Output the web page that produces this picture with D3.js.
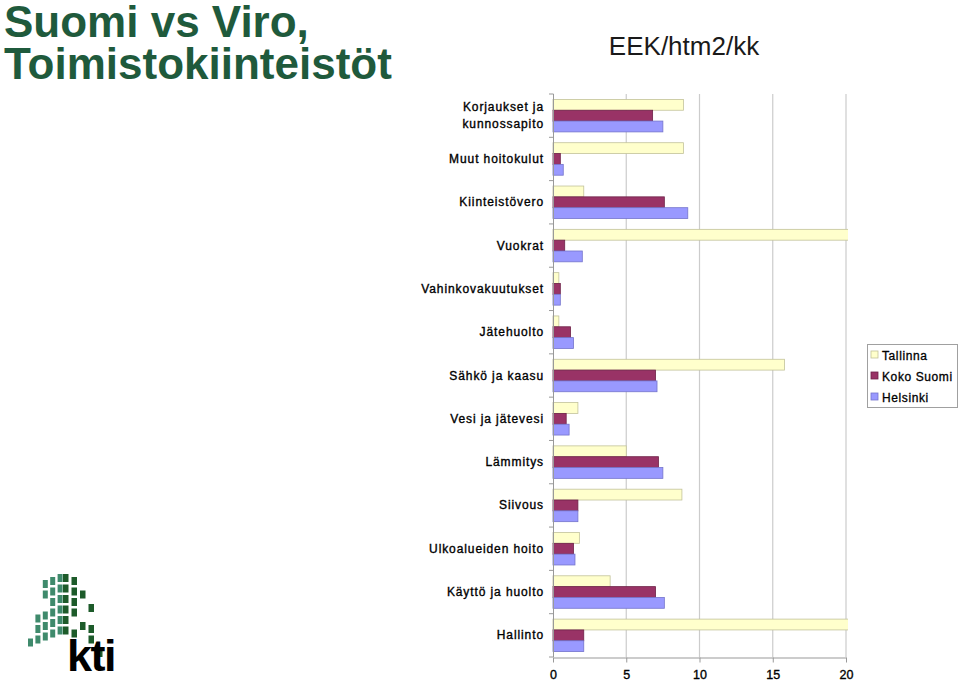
<!DOCTYPE html>
<html>
<head>
<meta charset="utf-8">
<script src="https://cdn.jsdelivr.net/npm/d3@7"></script>
<style>
  html, body { margin: 0; padding: 0; background: #fff; }
  svg { display: block; font-family: "Liberation Sans", Arial, sans-serif; }
</style>
</head>
<body>
<svg id="chart" width="960" height="682"></svg>
<script>
// categories, top to bottom
const categories = [
  'Korjaukset ja|kunnossapito',
  'Muut hoitokulut',
  'Kiinteistövero',
  'Vuokrat',
  'Vahinkovakuutukset',
  'Jätehuolto',
  'Sähkö ja kaasu',
  'Vesi ja jätevesi',
  'Lämmitys',
  'Siivous',
  'Ulkoalueiden hoito',
  'Käyttö ja huolto',
  'Hallinto'
];

const seriesNames = ['Tallinna', 'Koko Suomi', 'Helsinki'];

// EEK/htm2/kk (Vuokrat and Hallinto for Tallinna run past 20)
const tallinna  = [8.9, 8.9, 2.1, 21.0, 0.4, 0.4, 15.8, 1.7, 5.0, 8.8, 1.8, 3.9, 21.0];
const kokoSuomi = [6.8, 0.5, 7.6, 0.8, 0.5, 1.2, 7.0, 0.9, 7.2, 1.7, 1.4, 7.0, 2.1];
const helsinki  = [7.5, 0.7, 9.2, 2.0, 0.5, 1.4, 7.1, 1.1, 7.5, 1.7, 1.5, 7.6, 2.1];

const xTicks = [0, 5, 10, 15, 20];

const fills   = ['#ffffcc', '#993366', '#9999ff'];
const strokes = ['#c2c29a', '#6e2248', '#7474cc'];

const values = [tallinna, kokoSuomi, helsinki];

const svg = d3.select('#chart');

// title
const green = '#1f5a3c';
const title = svg.append('g')
  .attr('font-size', 44).attr('font-weight', 'bold')
  .attr('fill', green);
title.append('text').attr('x', 4).attr('y', 37).text('Suomi vs Viro,');
title.append('text').attr('x', 4).attr('y', 79).text('Toimistokiinteistöt');

svg.append('text')
  .attr('x', 684).attr('y', 55)
  .attr('text-anchor', 'middle')
  .attr('font-size', 26)
  .attr('fill', '#1a1a1a')
  .text('EEK/htm2/kk');

// scales
const x = d3.scaleLinear().domain([0, 20]).range([553, 846]);
const y = d3.scaleBand().domain(categories).range([94, 657]).paddingInner(0.25).paddingOuter(0.125);
const ySub = d3.scaleBand().domain(d3.range(3)).range([0, y.bandwidth()]);
const step = y.step();

// gridlines
svg.append('g')
  .selectAll('line')
  .data(xTicks.slice(1))
  .join('line')
  .attr('x1', d => x(d)).attr('x2', d => x(d))
  .attr('y1', 94).attr('y2', 657)
  .attr('stroke', '#cccccc')
  .attr('stroke-width', 1.2);

// bars
svg.append('clipPath').attr('id', 'plotclip')
  .append('rect')
  .attr('x', 540).attr('y', 90).attr('width', 308).attr('height', 570);

const barsG = svg.append('g').attr('clip-path', 'url(#plotclip)');
categories.forEach((c, i) => {
  const g = barsG.append('g').attr('transform', `translate(0,${y(c)})`);
  g.selectAll('rect')
    .data(values.map((v, s) => ({ s, v: v[i] })))
    .join('rect')
    .attr('x', x(0))
    .attr('y', d => ySub(d.s))
    .attr('width', d => x(d.v) - x(0))
    .attr('height', ySub.bandwidth())
    .attr('fill', d => fills[d.s])
    .attr('stroke', d => strokes[d.s])
    .attr('stroke-width', 0.8);
});

// x axis
const xAxis = svg.append('g')
  .attr('transform', 'translate(0,657.5)')
  .call(d3.axisBottom(x).tickValues(xTicks).tickSize(5).tickSizeOuter(0).tickPadding(8));
xAxis.select('.domain').attr('stroke', '#999');
xAxis.selectAll('.tick line').attr('stroke', '#999');
xAxis.selectAll('.tick text')
  .attr('font-size', 12.5)
  .attr('font-family', '"Liberation Sans", Arial, sans-serif')
  .attr('fill', '#000')
  .attr('stroke', '#000')
  .attr('stroke-width', 0.35);

// y axis line + ticks at band boundaries
svg.append('line')
  .attr('x1', 553.5).attr('x2', 553.5)
  .attr('y1', 94).attr('y2', 657)
  .attr('stroke', '#999');
svg.append('g')
  .selectAll('line')
  .data(d3.range(categories.length + 1))
  .join('line')
  .attr('x1', 549).attr('x2', 553.5)
  .attr('y1', i => 94 + i * step).attr('y2', i => 94 + i * step)
  .attr('stroke', '#999');

// category labels
const labels = svg.append('g')
  .attr('font-size', 12)
  .attr('letter-spacing', 0.9)
  .attr('fill', '#000')
  .attr('stroke', '#000')
  .attr('stroke-width', 0.35)
  .attr('text-anchor', 'end');
categories.forEach(c => {
  const lines = c.split('|');
  const cy = y(c) + y.bandwidth() / 2;
  const t = labels.append('text')
    .attr('x', 544)
    .attr('y', cy + 4 - (lines.length - 1) * 8.5);
  lines.forEach((l, k) => {
    t.append('tspan').attr('x', 544).attr('dy', k ? 17 : 0).text(l);
  });
});

// legend
const legend = svg.append('g').attr('transform', 'translate(867,344)');
legend.append('rect')
  .attr('x', 0.5).attr('y', 0.5).attr('width', 90).attr('height', 63)
  .attr('fill', '#fff').attr('stroke', '#a0a0a0');
seriesNames.forEach((n, s) => {
  const row = legend.append('g').attr('transform', `translate(0,${11 + s * 21})`);
  row.append('rect')
    .attr('x', 4).attr('y', -4).attr('width', 7).attr('height', 7)
    .attr('fill', fills[s]).attr('stroke', strokes[s]).attr('stroke-width', 0.8);
  row.append('text')
    .attr('x', 15).attr('y', 4.5)
    .attr('font-size', 12)
    .attr('letter-spacing', 0.6)
    .attr('fill', '#000')
    .attr('stroke', '#000')
    .attr('stroke-width', 0.3)
    .text(n);
});

// kti logo
const logo = svg.append('g');
const teal = '#3f8a6c';
const dark = '#1d5b2a';
// left face squares: [col, row], rising toward the corner
const leftSq = [
  [2, 0], [3, 0], [4, 0],
  [2, 1], [3, 1], [4, 1],
  [3, 2], [4, 2],
  [1, 3], [2, 3], [3, 3], [4, 3],
  [1, 4], [2, 4], [3, 4], [4, 4],
  [0, 5], [1, 5], [2, 5], [3, 5], [4, 5]
];
leftSq.forEach(([c, r]) => {
  logo.append('rect')
    .attr('x', 28 + c * 7.4)
    .attr('y', 586 + r * 10.5 - c * 3)
    .attr('width', 5).attr('height', 8)
    .attr('fill', teal);
});
// right face squares: [col, row], falling away from the corner
const rightSq = [
  [0, 0], [1, 0],
  [0, 1], [1, 1], [2, 1],
  [0, 2], [1, 2], [3, 2],
  [0, 3], [1, 3],
  [0, 4], [2, 4], [3, 4],
  [0, 5], [1, 5], [3, 5],
  [4, 6]
];
rightSq.forEach(([c, r]) => {
  logo.append('rect')
    .attr('x', 63 + c * 8.5)
    .attr('y', 574 + r * 10.5 + c * 3)
    .attr('width', 5.5).attr('height', 8)
    .attr('fill', dark);
});
logo.append('text')
  .attr('x', 67).attr('y', 671)
  .attr('font-size', 45).attr('font-weight', 'bold')
  .attr('letter-spacing', -1.5)
  .attr('fill', '#000')
  .text('kti');
</script>
</body>
</html>
